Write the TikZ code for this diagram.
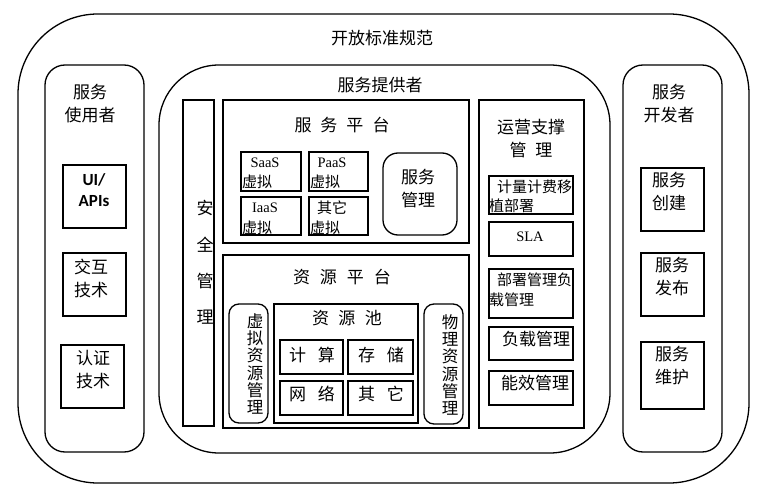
\documentclass[tikz,border=0pt]{standalone}
\usepackage{fontspec}
\setmainfont{Noto Sans CJK SC}
\newfontfamily\serifl{Liberation Serif}
\newfontfamily\calib{Carlito}
\newcommand\myfs[2]{\fontsize{#1}{#2}\selectfont}
\newcommand\gp[1]{\hspace{#1pt}}
\newcommand\bx[6]{\node[#2, minimum width={(#5-#3)*1pt}, minimum height={(#6-#4)*1pt}] (#1) at ({(#3+#5)/2},{(#4+#6)/2}) {};}
\begin{document}
\begin{tikzpicture}[x=1pt,y=-1pt,
  frame/.style={draw, line width=1.3pt, inner sep=0pt, outer sep=0pt},
  rbox/.style={frame, rounded corners=#1},
  tb/.style={inner sep=0pt, align=center, font=\myfs{17}{23}},
  ts/.style={inner sep=0pt, align=center, font=\myfs{15}{19}},
  lt/.style={inner sep=0pt, font=\serifl\myfs{14.5}{18}},
  vt/.style={inner sep=0pt, align=center, font=\myfs{16.5}{17.3}}]
\useasboundingbox (0,0) rectangle (763,494);
% outer frames
\bx{outer}{rbox=80pt}{18}{14}{749}{483}
\node[tb] (tOuter) at (382,38) {开放标准规范};
\bx{user}{rbox=20pt}{45}{65}{144}{452}
\node[tb] (tUser) at (90,103.5) {服务\\使用者};
\bx{ui}{frame}{63}{165}{126}{228}
\node[inner sep=0pt, align=center, font=\calib\bfseries\myfs{17}{21}] (tUi) at (94,190) {UI/\\APIs};
\bx{inter}{frame}{63}{253}{126}{316}
\node[tb] (tInter) at (91,278) {交互\\技术};
\bx{auth}{frame}{61}{345}{124}{408}
\node[tb] (tAuth) at (93,370) {认证\\技术};
% provider
\bx{prov}{rbox=60pt}{159}{65}{610}{453}
\node[tb] (tProv) at (380,85) {服务提供者};
\bx{sec}{frame}{183}{100}{214}{426}
\node[tb] (s1) at (205,208) {安};
\node[tb] (s2) at (205,245) {全};
\node[tb] (s3) at (205,281) {管};
\node[tb] (s4) at (205,317) {理};
% service platform
\bx{svc}{frame}{223}{100}{469}{243}
\node[tb] (tSvc) at (342,125) {服\gp{9}务\gp{9}平\gp{9}台};
\bx{saas}{frame}{241}{152}{301}{191}
\node[lt] (tSaas) at (265,163) {SaaS};
\node[ts, anchor=west] (vSaas) at (242,182) {虚拟};
\bx{paas}{frame}{309}{152}{368}{191}
\node[lt] (tPaas) at (332,163) {PaaS};
\node[ts, anchor=west] (vPaas) at (310,182) {虚拟};
\bx{iaas}{frame}{241}{197}{301}{235}
\node[lt] (tIaas) at (265,208) {IaaS};
\node[ts, anchor=west] (vIaas) at (242,228) {虚拟};
\bx{oth}{frame}{309}{197}{368}{235}
\node[ts] (tOth) at (332,208) {其它};
\node[ts, anchor=west] (vOth) at (310,228) {虚拟};
\bx{smg}{rbox=15pt}{383}{153}{457}{235}
\node[tb] (tSmg) at (418,189) {服务\\管理};
% resource platform
\bx{res}{frame}{223}{255}{469}{428}
\node[tb] (tRes) at (342,277) {资\gp{10}源\gp{10}平\gp{10}台};
\bx{vrm}{rbox=10pt}{229}{304}{268}{423}
\node[vt] (tVrm) at (255,364) {虚\\拟\\资\\源\\管\\理};
\bx{pool}{frame}{274}{304}{418}{423}
\node[tb] (tPool) at (347,318) {资\gp{9.5}源\gp{9.5}池};
\bx{cpu}{frame}{280}{340}{343}{374}
\node[tb] (tCpu) at (312,355) {计\gp{12}算};
\bx{sto}{frame}{348}{340}{413}{374}
\node[tb] (tSto) at (381,355) {存\gp{12}储};
\bx{net}{frame}{280}{381}{343}{415}
\node[tb] (tNet) at (312,394) {网\gp{12}络};
\bx{oth2}{frame}{348}{381}{413}{415}
\node[tb] (tOth2) at (381,394) {其\gp{12}它};
\bx{prm}{rbox=10pt}{424}{304}{463}{424}
\node[vt] (tPrm) at (450,365) {物\\理\\资\\源\\管\\理};
% operations
\bx{ops}{frame}{479}{100}{584}{428}
\node[tb] (tOps) at (531,138.5) {运营支撑\\管\gp{9}理};
\bx{bill}{frame}{489}{176}{573}{214}
\node[ts, anchor=west] (tBill1) at (497,187) {计量计费移};
\node[ts, anchor=west] (tBill2) at (489,206) {植部署};
\bx{sla}{frame}{489}{222}{573}{256}
\node[lt] (tSla) at (530,237) {SLA};
\bx{dep}{frame}{489}{269}{573}{318}
\node[ts, anchor=west] (tDep1) at (497,280) {部署管理负};
\node[ts, anchor=west] (tDep2) at (489,300) {载管理};
\bx{load}{frame}{489}{327}{573}{360}
\node[tb] (tLoad) at (536,339) {负载管理};
\bx{eff}{frame}{489}{371}{573}{405}
\node[tb] (tEff) at (535,383) {能效管理};
% developer
\bx{dev}{rbox=20pt}{623}{65}{722}{452}
\node[tb] (tDev) at (669,103.5) {服务\\开发者};
\bx{crt}{frame}{641}{168}{704}{231}
\node[tb] (tCrt) at (669,191.5) {服务\\创建};
\bx{pub}{frame}{641}{253}{704}{316}
\node[tb] (tPub) at (672,276.5) {服务\\发布};
\bx{mnt}{frame}{641}{342}{704}{409}
\node[tb] (tMnt) at (672,366) {服务\\维护};
\end{tikzpicture}
\end{document}
